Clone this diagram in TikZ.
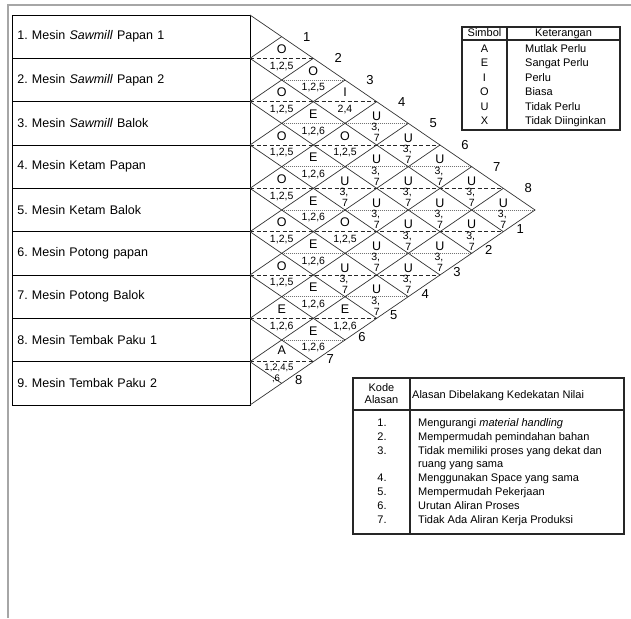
\documentclass[tikz,border=0pt]{standalone}
\usepackage{fontspec}
\setmainfont{Liberation Sans}
\frenchspacing
\newcommand{\arccell}[4]{%
  \pgfmathsetmacro\cx{250+(#2-#1)*31.667}%
  \pgfmathsetmacro\cy{15+43.333*((#1+#2)/2-0.5)}%
  \node[lt] (L#1#2) at (\cx,\cy-9) {#3};
  \node[rs] (R#1#2) at (\cx,\cy+8) {#4};}
\newcommand{\ucell}[2]{%
  \pgfmathsetmacro\cx{250+(#2-#1)*31.667}%
  \pgfmathsetmacro\cy{15+43.333*((#1+#2)/2-0.5)}%
  \node[lt] (L#1#2) at (\cx,\cy-7) {U};
  \node[rs] (R#1#2) at (\cx-1,\cy+4.5) {3,};
  \node[rs] (S#1#2) at (\cx,\cy+15) {7};}
\begin{document}
\begin{tikzpicture}[x=1pt,y=-1pt,
  grid/.style={draw=black!80, line width=0.7pt},
  bnd/.style={draw=black!85, line width=0.7pt, dash pattern=on 4pt off 2.5pt},
  ctr/.style={draw=black!55, line width=0.7pt, dash pattern=on 1pt off 1pt},
  machbox/.style={draw=black, line width=0.8pt, minimum height=43.33pt, text width=228pt, inner xsep=5pt, inner ysep=0pt, align=left, anchor=west, font=\fontsize{12.5}{14}\selectfont},
  lt/.style={font=\fontsize{12.5}{13}\selectfont, inner sep=0pt},
  rs/.style={font=\fontsize{10.5}{11}\selectfont, inner sep=0pt},
  num/.style={font=\fontsize{13}{14}\selectfont, inner sep=0pt},
  tbl/.style={font=\fontsize{11}{12}\selectfont, inner sep=0pt, text height=8pt, text depth=2pt},
  tframe/.style={draw=black!85, line width=1.2pt}
]
\useasboundingbox (0,0) rectangle (631,618);
\draw[gray!70, line width=1.5pt] (8,618) -- (8,5) -- (631,5);

% machine boxes
\node[machbox] (m1) at (12,36.67) {1. Mesin \textit{Sawmill} Papan 1};
\node[machbox] (m2) at (12,80.00) {2. Mesin \textit{Sawmill} Papan 2};
\node[machbox] (m3) at (12,123.33) {3. Mesin \textit{Sawmill} Balok};
\node[machbox] (m4) at (12,166.67) {4. Mesin Ketam Papan};
\node[machbox] (m5) at (12,210.00) {5. Mesin Ketam Balok};
\node[machbox] (m6) at (12,253.33) {6. Mesin Potong papan};
\node[machbox] (m7) at (12,296.67) {7. Mesin Potong Balok};
\node[machbox] (m8) at (12,340.00) {8. Mesin Tembak Paku 1};
\node[machbox] (m9) at (12,383.33) {9. Mesin Tembak Paku 2};

% horizontal split lines
\foreach \k in {1,...,8} {
  \pgfmathsetmacro\e{250+2*min(\k,9-\k)*31.667}
  \draw[bnd] (250,{15+43.333*\k}) -- (\e,{15+43.333*\k});
}
\foreach \k in {2,...,8} {
  \pgfmathsetmacro\e{250+(2*min(\k,10-\k)-1)*31.667}
  \draw[ctr] (281.667,{15+43.333*(\k-0.5)}) -- (\e,{15+43.333*(\k-0.5)});
}
% diagonal lattice
\foreach \m in {1,...,8} {
  \draw[grid] (250,{15+43.333*\m}) -- ++({(9-\m)*31.667},{(9-\m)*21.667});
  \draw[grid] (250,{15+43.333*\m}) -- ++({\m*31.667},{-\m*21.667});
}
\draw[grid] (250,15) -- (535,210) -- (250,405);

% cells
\arccell{1}{2}{O}{1,2,5}
\arccell{2}{3}{O}{1,2,5}
\arccell{3}{4}{O}{1,2,5}
\arccell{4}{5}{O}{1,2,5}
\arccell{5}{6}{O}{1,2,5}
\arccell{6}{7}{O}{1,2,5}
\arccell{7}{8}{E}{1,2,6}
\node[lt] (L89) at (281.667,350.5) {A};
\node[rs, font=\fontsize{9.5}{10}\selectfont] (R89) at (279,368) {1,2,4,5};
\node[rs, font=\fontsize{9.5}{10}\selectfont] (S89) at (276,378.5) {,6};
\arccell{1}{3}{O}{1,2,5}
\arccell{2}{4}{E}{1,2,6}
\arccell{3}{5}{E}{1,2,6}
\arccell{4}{6}{E}{1,2,6}
\arccell{5}{7}{E}{1,2,6}
\arccell{6}{8}{E}{1,2,6}
\arccell{7}{9}{E}{1,2,6}
\arccell{1}{4}{I}{2,4}
\arccell{2}{5}{O}{1,2,5}
\ucell{3}{6}
\arccell{4}{7}{O}{1,2,5}
\ucell{5}{8}
\arccell{6}{9}{E}{1,2,6}
\ucell{1}{5}\ucell{2}{6}\ucell{3}{7}\ucell{4}{8}\ucell{5}{9}
\ucell{1}{6}\ucell{2}{7}\ucell{3}{8}\ucell{4}{9}
\ucell{1}{7}\ucell{2}{8}\ucell{3}{9}
\ucell{1}{8}\ucell{2}{9}
\ucell{1}{9}

% outline numbers
\foreach \k in {1,...,8} {
  \node[num] (t\k) at ({250+\k*31.667+25},{15+\k*21.667}) {\k};
  \node[num] (b\k) at ({250+(9-\k)*31.667+17},{210+\k*21.667-3}) {\k};
}

% legend table
\draw[tframe] (462,27) rectangle (620,130);
\draw[tframe] (462,40) -- (620,40);
\draw[tframe] (507,27) -- (507,130);
\node[tbl] (hs) at (484.5,33.5) {Simbol};
\node[tbl] (hk) at (563.5,33.5) {Keterangan};
\foreach \s/\t [count=\i from 0] in {A/Mutlak Perlu, E/Sangat Perlu, I/Perlu, O/Biasa, U/Tidak Perlu, X/Tidak Diinginkan} {
  \node[tbl] (s\i) at (484.5,{49.5+14.4*\i}) {\s};
  \node[tbl, anchor=west] (k\i) at (525,{49.5+14.4*\i}) {\t};
}

% reason table
\draw[tframe, line width=1.6pt] (353,378) rectangle (624,534);
\draw[tframe] (353,410) -- (624,410);
\draw[tframe] (410,378) -- (410,534);
\node[tbl] (ka) at (381.5,388) {Kode};
\node[tbl] (kb) at (381.5,400.5) {Alasan};
\node[tbl, anchor=west] (kh) at (412,395) {Alasan Dibelakang Kedekatan Nilai};
\foreach \n/\t/\y in {1./Mengurangi \textit{material handling}/423, 2./Mempermudah pemindahan bahan/437, 3./Tidak memiliki proses yang dekat dan/451, /ruang yang sama/464.5, 4./Menggunakan Space yang sama/478, 5./Mempermudah Pekerjaan/492, 6./Urutan Aliran Proses/506, 7./Tidak Ada Aliran Kerja Produksi/520} {
  \node[tbl] (n\y) at (382,\y) {\n};
  \node[tbl, anchor=west] (r\y) at (418,\y) {\t};
}
\end{tikzpicture}
\end{document}
